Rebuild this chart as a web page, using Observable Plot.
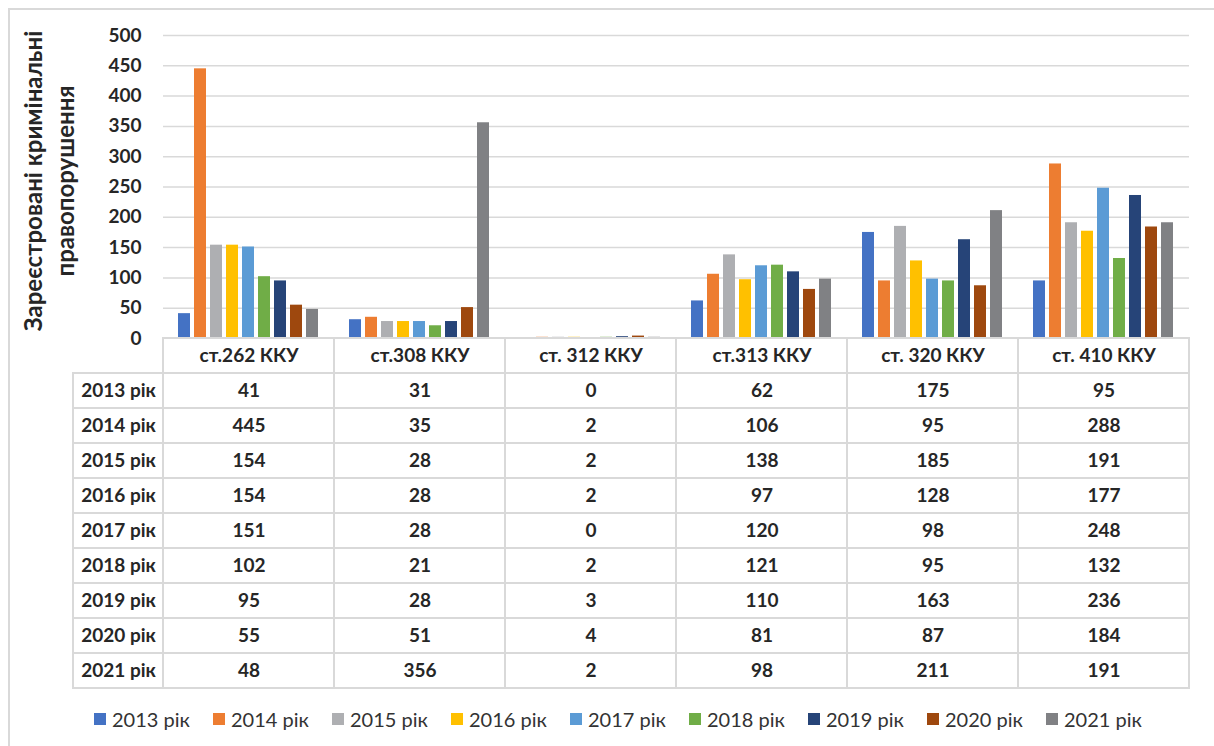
<!DOCTYPE html>
<html><head><meta charset="utf-8">
<script src="https://cdn.jsdelivr.net/npm/d3@7"></script>
<script src="https://cdn.jsdelivr.net/npm/@observablehq/plot@0.6"></script>
<style>
html,body{margin:0;padding:0;background:#fff;}
#wrap{position:relative;width:1214px;height:746px;overflow:hidden;background:#fff;font-family:Lato,sans-serif;}
#frame{position:absolute;left:8px;top:8px;width:1400px;height:900px;border:2px solid #d9d9d9;box-sizing:border-box;}
.abs{position:absolute;}
.lg-swatches{font-family:Lato,sans-serif;font-size:20px;color:#333;margin:0;}
.lg-swatches-wrap{padding-left:94px;}
.lg-swatch{width:119px;margin-right:0 !important;}
.lg-swatch > svg{margin-right:6px !important;}
</style>
</head><body>
<div id="wrap">
  <div id="frame"></div>
  <div id="bars" class="abs" style="left:0;top:0;"></div>
  <div id="table" class="abs" style="left:0;top:337px;"></div>
  <div id="labels" class="abs" style="left:72px;top:372px;"></div>
  <div id="legend" class="abs" style="left:0;top:702px;width:1214px;"></div>
</div>
<script>
const cats = ["ст.262 ККУ", "ст.308 ККУ", "ст. 312 ККУ", "ст.313 ККУ", "ст. 320 ККУ", "ст. 410 ККУ"];
const years = ["2013 рік", "2014 рік", "2015 рік", "2016 рік", "2017 рік", "2018 рік", "2019 рік", "2020 рік", "2021 рік"];
const v2013 = [41, 31, 0, 62, 175, 95];
const v2014 = [445, 35, 2, 106, 95, 288];
const v2015 = [154, 28, 2, 138, 185, 191];
const v2016 = [154, 28, 2, 97, 128, 177];
const v2017 = [151, 28, 0, 120, 98, 248];
const v2018 = [102, 21, 2, 121, 95, 132];
const v2019 = [95, 28, 3, 110, 163, 236];
const v2020 = [55, 51, 4, 81, 87, 184];
const v2021 = [48, 356, 2, 98, 211, 191];
const yTicks = [0, 50, 100, 150, 200, 250, 300, 350, 400, 450, 500];
const yLabel = "Зареєстровані кримінальні\nправопорушення";
const colors = ["#4472C4", "#ED7D31", "#AEAFB2", "#FFC000", "#5B9BD5", "#70AD47", "#264478", "#9E480E", "#808184"];

const series = [v2013, v2014, v2015, v2016, v2017, v2018, v2019, v2020, v2021];
const data = years.flatMap((yr, j) => cats.map((c, i) => ({cat: c, year: yr, value: series[j][i]})));
const ink = "#262626";
const grid = "#d9d9d9";

const bars = Plot.plot({
  width: 1214, height: 340,
  marginLeft: 163, marginRight: 25, marginTop: 35, marginBottom: 2,
  style: {background: "transparent", overflow: "visible", fontFamily: "Lato, sans-serif"},
  fx: {domain: cats, padding: 0, axis: null},
  x: {domain: years, paddingInner: 0.22, paddingOuter: 0.86, axis: null},
  y: {domain: [0, 500], axis: null},
  color: {domain: years, range: colors},
  marks: [
    Plot.gridY(yTicks, {stroke: grid, strokeOpacity: 1, strokeWidth: 1.5}),
    Plot.axisY(yTicks, {tickSize: 0, tickPadding: 22, fontSize: 19, fontWeight: 700, fill: ink, label: null}),
    Plot.barY(data, {fx: "cat", x: "year", y: "value", fill: "year"}),
    Plot.text([yLabel], {text: d => d, frameAnchor: "left", textAnchor: "middle", lineAnchor: "middle",
      rotate: -90, dx: -116, dy: -6,
      fontSize: 24, fontWeight: 700, lineHeight: 1.35, fill: ink, facetAnchor: "left"})
  ]
});
document.getElementById("bars").append(bars);

const cells = cats.flatMap((c, i) => [
  {cat: c, row: "header", text: c},
  ...years.map((yr, j) => ({cat: c, row: yr, text: String(series[j][i])}))
]);
const table = Plot.plot({
  width: 1214, height: 352,
  marginLeft: 163, marginRight: 25, marginTop: 1, marginBottom: 1,
  style: {background: "transparent", overflow: "visible", fontFamily: "Lato, sans-serif"},
  x: {domain: cats, padding: 0, axis: null},
  y: {domain: ["header", ...years], padding: 0, axis: null},
  marks: [
    Plot.cell(cells, {x: "cat", y: "row", fill: "white", stroke: grid, strokeWidth: 2, inset: 0}),
    Plot.text(cells, {x: "cat", y: "row", text: "text", fontSize: 19, fontWeight: 700, fill: ink})
  ]
});
document.getElementById("table").append(table);

const labels = Plot.plot({
  width: 92, height: 317,
  marginLeft: 1, marginRight: 1, marginTop: 1, marginBottom: 1,
  style: {background: "transparent", overflow: "visible", fontFamily: "Lato, sans-serif"},
  y: {domain: years, padding: 0, axis: null},
  marks: [
    Plot.cell(years, {y: d => d, fill: "white", stroke: grid, strokeWidth: 2, inset: 0}),
    Plot.text(years, {y: d => d, text: d => d, fontSize: 19, fontWeight: 700, fill: ink})
  ]
});
document.getElementById("labels").append(labels);

const legend = Plot.legend({
  color: {type: "ordinal", domain: years, range: colors},
  legend: "swatches", swatchSize: 12, className: "lg"
});
document.getElementById("legend").append(legend);
</script>
</body></html>
